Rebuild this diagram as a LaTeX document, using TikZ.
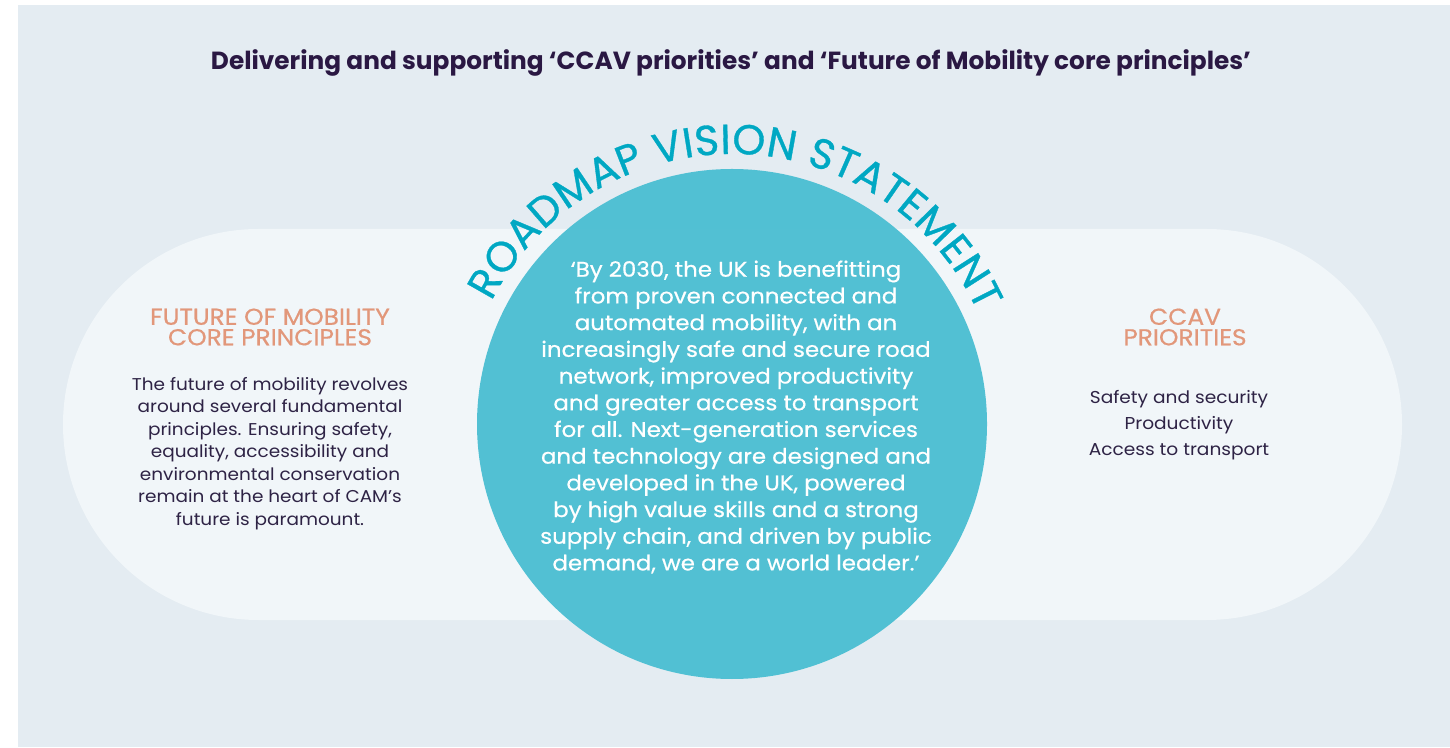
\documentclass[tikz,border=0pt]{standalone}
\usepackage{fontspec}
\setmainfont{Poppins}[FakeStretch=1.08]
\newfontfamily\popmed{Poppins}[FakeStretch=1.08, FakeBold=0.6]
\newfontfamily\popbold{Poppins}
\newfontfamily\arcfont{Poppins}[FakeBold=0.8]
\usetikzlibrary{decorations.text}
\definecolor{bgcol}{HTML}{E4ECF2}
\definecolor{pillcol}{HTML}{F1F6F9}
\definecolor{circcol}{HTML}{4ABED2}
\definecolor{arccol}{HTML}{00A8C3}
\definecolor{titlecol}{HTML}{2A1843}
\definecolor{headcol}{HTML}{E2977A}
\definecolor{bodycol}{HTML}{2E2345}
\tikzset{
  headtext/.style={text=headcol, align=center, font=\popmed\fontsize{23}{20.5}\selectfont, inner sep=0pt},
  bodytext/.style={text=bodycol, align=center, inner sep=0pt},
}
\begin{document}
\begin{tikzpicture}[x=1pt,y=1pt]
\useasboundingbox (0,0) rectangle (1450,747);
\fill[white] (0,0) rectangle (1450,747);
\fill[bgcol] (18,0) rectangle (1450,742);
% pill
\fill[pillcol, rounded corners=195.5pt] (63,127) rectangle (1402,518);
% circle
\node[circle, fill=circcol, fill opacity=0.95, minimum size=510pt, inner sep=0pt] (vision) at (732,323) {};
% title
\node[text=titlecol, font=\popbold\bfseries\fontsize{24.8}{24.8}\selectfont, inner sep=0pt] (title) at (731,684) {Delivering and supporting ‘CCAV priorities’ and ‘Future of Mobility core principles’};
% arc text
\path[decorate, decoration={text along path, text align={fit to path},
  text={|\arcfont\fontsize{42}{42}\selectfont\color{arccol}|ROADMAP VISION STATEMENT}}]
  (vision.center) ++(153:270) arc[start angle=153, end angle=24.5, radius=270];
% circle text
\node[text=white, align=center, inner sep=0pt, font=\popmed\fontsize{21.2}{26.7}\selectfont] (statement) at (736,330) {‘By 2030, the UK is benefitting\\from proven connected and\\automated mobility, with an\\increasingly safe and secure road\\network, improved productivity\\and greater access to transport\\for all. Next-generation services\\and technology are designed and\\developed in the UK, powered\\by high value skills and a strong\\supply chain, and driven by public\\demand, we are a world leader.’};
% left
\node[headtext] (fomhead) at (270,420) {FUTURE OF MOBILITY\\CORE PRINCIPLES};
\node[bodytext, font=\fontsize{17.1}{22.5}\selectfont] (fombody) at (270,293.5) {The future of mobility revolves\\around several fundamental\\principles. Ensuring safety,\\equality, accessibility and\\environmental conservation\\remain at the heart of CAM’s\\future is paramount.};
% right
\node[headtext] (ccavhead) at (1185,420) {CCAV\\PRIORITIES};
\node[bodytext, font=\fontsize{17.2}{26}\selectfont] (ccavbody) at (1179,322) {Safety and security\\Productivity\\Access to transport};
\end{tikzpicture}
\end{document}
